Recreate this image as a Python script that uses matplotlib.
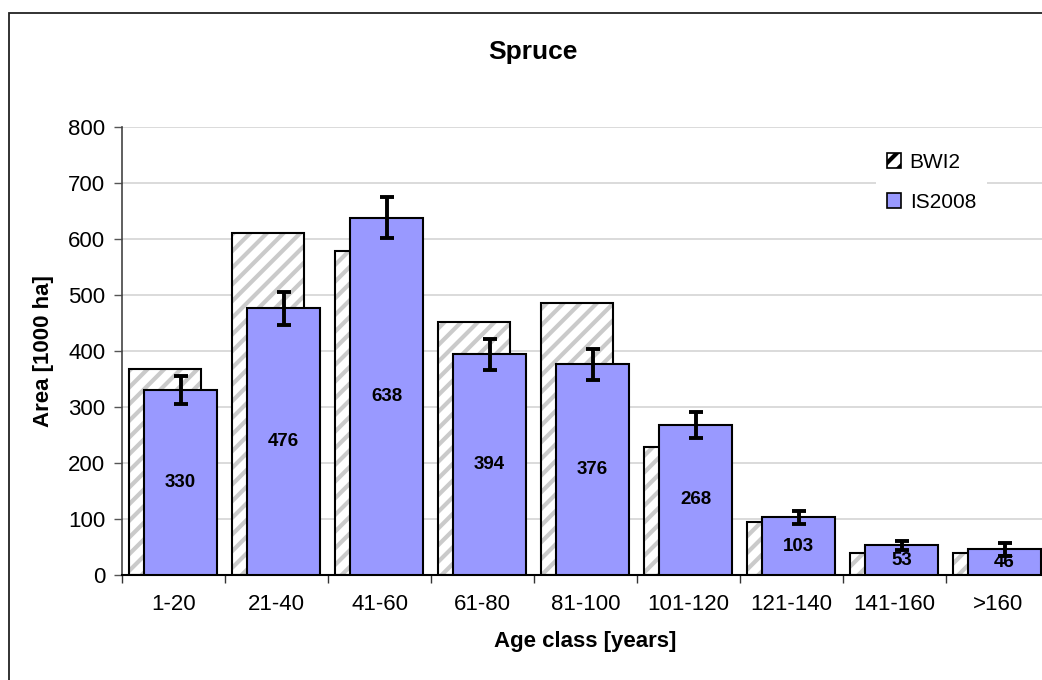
import matplotlib
matplotlib.use("Agg")
import matplotlib.pyplot as plt
from matplotlib.patches import Rectangle, Patch
import numpy as np

plt.rcParams['font.family'] = ['Liberation Sans', 'DejaVu Sans']
plt.rcParams['hatch.linewidth'] = 3.0

categories = ["1-20", "21-40", "41-60", "61-80", "81-100", "101-120", "121-140", "141-160", ">160"]
bwi2 = [367, 611, 578, 452, 486, 229, 94, 39, 39]
is2008 = [330, 476, 638, 394, 376, 268, 103, 53, 46]
is2008_err = [25, 30, 37, 28, 28, 23, 12, 8, 12]

fig = plt.figure(figsize=(10.42, 6.8), dpi=100)
# outer border (chart area frame, cropped at right/bottom)
fig.patches.append(Rectangle((9 / 1042, -0.05), 1.1, (680 - 13) / 680 + 0.05,
                             transform=fig.transFigure, fill=False,
                             edgecolor='#222222', linewidth=1.3, zorder=0))

ax = fig.add_axes([122 / 1042, 105 / 680, 927 / 1042, 448 / 680])
x = np.arange(len(categories))
w = 0.70
xb = x - 0.08
xi = x + 0.068

# BWI2 hatched bars: hatch layer then outline
ax.bar(xb, bwi2, width=w, color='white', edgecolor='#cacaca', hatch='//',
       linewidth=0, zorder=2)
ax.bar(xb, bwi2, width=w, facecolor='none', edgecolor='black', linewidth=1.5, zorder=2.1)
ax.bar(xi, is2008, width=w, color='#9999FF', edgecolor='black', linewidth=1.5, zorder=3)
ax.errorbar(xi, is2008, yerr=is2008_err, fmt='none', ecolor='black', elinewidth=2.8,
            capsize=5.2, capthick=2.8, zorder=4)

for xv, v in zip(xi, is2008):
    ax.text(xv, v / 2, str(v), ha='center', va='center', fontsize=13.5,
            fontweight='bold', zorder=5)

ax.set_xlim(-0.5, len(categories) - 0.5)
ax.set_ylim(0, 800)
ax.set_yticks(range(0, 801, 100))
ax.tick_params(axis='y', labelsize=16, length=6, width=1, color='#555555', pad=6)
ax.set_xticks(x)
ax.set_xticklabels(categories)
ax.tick_params(axis='x', which='major', length=0, labelsize=16, pad=14)
ax.set_xticks(np.arange(-0.5, len(categories), 1.0), minor=True)
ax.tick_params(axis='x', which='minor', length=6, width=1, color='#333333')

ax.yaxis.grid(True, color='#d4d4d4', linewidth=1.2)
ax.set_axisbelow(True)
for s in ['top', 'right']:
    ax.spines[s].set_visible(False)
ax.spines['left'].set_color('#444444')
ax.spines['left'].set_linewidth(1.2)
ax.spines['bottom'].set_color('black')
ax.spines['bottom'].set_linewidth(1.5)

ax.set_ylabel("Area [1000 ha]", fontsize=16, fontweight='bold', labelpad=10)
ax.set_xlabel("Age class [years]", fontsize=16, fontweight='bold', labelpad=11)
fig.text(533 / 1042, 1 - 52 / 680, "Spruce", ha='center', va='center',
         fontsize=19, fontweight='bold')

handles = [Patch(facecolor='white', edgecolor='black', hatch='//', linewidth=1.2, label='BWI2'),
           Patch(facecolor='#9999FF', edgecolor='black', linewidth=1.2, label='IS2008')]
leg = fig.legend(handles=handles, loc='upper left', bbox_to_anchor=(866 / 1042, 1 - 132 / 680),
                 fontsize=15, frameon=True, fancybox=False, framealpha=1,
                 handlelength=0.7, handleheight=0.7, handletextpad=0.4,
                 labelspacing=1.0, borderpad=0.5)
leg.get_frame().set_edgecolor('none')
leg.get_frame().set_facecolor('white')

fig.savefig("out.png", dpi=100)
